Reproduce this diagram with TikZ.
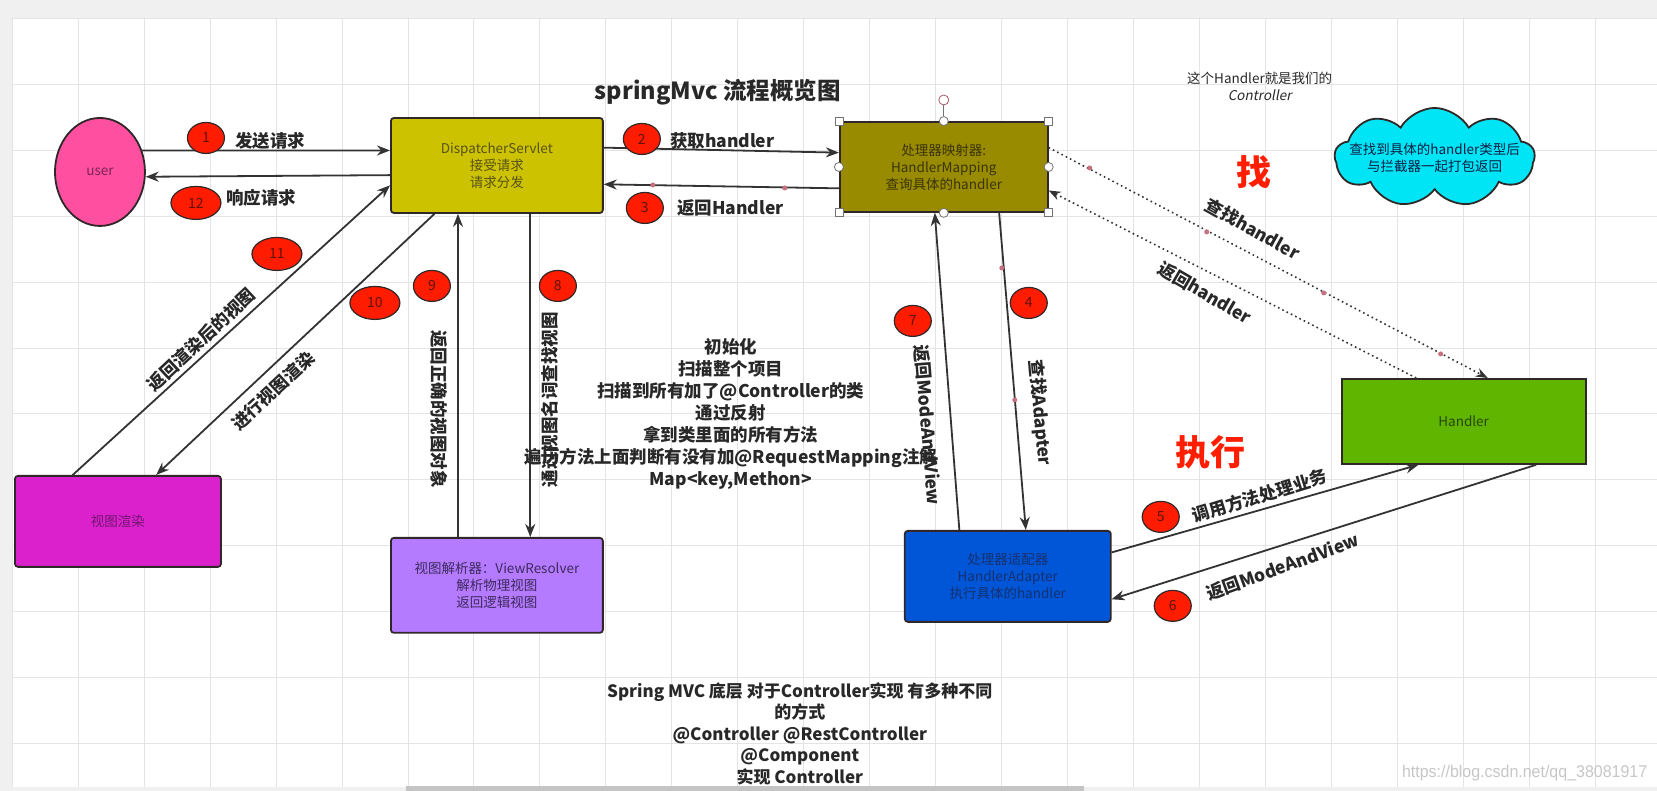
\documentclass[tikz,border=0pt]{standalone}
\usepackage{fontspec}
\setmainfont{Noto Sans CJK SC}
\newfontface\slantfont{Noto Sans CJK SC}[FakeSlant=0.2]
\newfontfamily\markfont{Liberation Sans}
\usetikzlibrary{arrows.meta,calc,shapes.geometric,shapes.symbols}

\definecolor{pagegray}{RGB}{240,240,241}
\definecolor{gridgray}{RGB}{228,228,230}
\definecolor{bargray}{RGB}{196,196,196}
\definecolor{linegray}{RGB}{51,51,51}
\definecolor{edgegray}{RGB}{48,40,40}
\definecolor{labelgray}{RGB}{40,40,40}
\definecolor{userpink}{RGB}{255,79,160}
\definecolor{usertext}{RGB}{125,35,85}
\definecolor{dsyellow}{RGB}{204,194,0}
\definecolor{dstext}{RGB}{88,82,25}
\definecolor{hmolive}{RGB}{153,139,0}
\definecolor{hmtext}{RGB}{58,52,8}
\definecolor{hdgreen}{RGB}{96,181,0}
\definecolor{hdtext}{RGB}{40,70,5}
\definecolor{hablue}{RGB}{0,86,214}
\definecolor{hatext}{RGB}{22,48,112}
\definecolor{vrpurple}{RGB}{180,122,255}
\definecolor{vrtext}{RGB}{62,42,92}
\definecolor{rendermag}{RGB}{219,33,204}
\definecolor{rendertext}{RGB}{112,22,112}
\definecolor{cloudcyan}{RGB}{0,229,245}
\definecolor{badgered}{RGB}{255,28,0}
\definecolor{badgetext}{RGB}{95,18,8}
\definecolor{bigred}{RGB}{255,30,0}
\definecolor{waydot}{RGB}{200,112,128}

\tikzset{
  box/.style={draw=edgegray, line width=1.8pt, rounded corners=3pt, inner sep=0pt,
    align=center, font=\fontsize{13.5}{17}\selectfont},
  arr/.style={-{Stealth[length=13pt,width=10pt]}, line width=1.8pt, draw=linegray},
  dotarr/.style={-{Stealth[length=12pt,width=9pt]}, line width=1.6pt, draw=linegray,
    dash pattern=on 1.6pt off 3.2pt},
  badge/.style={ellipse, draw=edgegray, line width=1.2pt, fill=badgered,
    minimum width=37pt, minimum height=31pt, inner sep=0pt,
    font=\fontsize{14}{14}\selectfont, text=badgetext},
  wide/.style={minimum width=50pt, minimum height=33pt},
  lbl/.style={font=\fontsize{17.5}{22}\selectfont\bfseries, text=labelgray, inner sep=0pt},
  gridline/.style={draw=gridgray, line width=0.8pt},
  hsq/.style={rectangle, draw=black!55, fill=white, line width=0.8pt, minimum size=8pt, inner sep=0pt},
  hcirc/.style={circle, draw=black!55, fill=white, line width=0.8pt, minimum size=9pt, inner sep=0pt},
}

\begin{document}
\begin{tikzpicture}[x=1pt,y=-1pt]
    %% page and grid
    \fill[pagegray] (0,0) rectangle (1657,791);
    \fill[white] (12,18) rectangle (1657,787);
    \foreach \gx in {12,78,...,1596} \draw[gridline] (\gx,18) -- (\gx,787);
    \foreach \gy in {18,84,...,744} \draw[gridline] (12,\gy) -- (1657,\gy);
    \fill[bargray] (406,786) rectangle (1084,791);
    \useasboundingbox (0,0) rectangle (1657,791);

    %% title and notes
    \node[font=\fontsize{23.5}{23.5}\selectfont\bfseries, text=labelgray] (title) at (718,92) {springMvc 流程概览图};
    \node[align=center, font=\fontsize{13.5}{17}\selectfont, text=labelgray] (hint) at (1260,86.5)
        {这个Handler就是我们的\\{\slantfont Controller}};
    \node[font=\fontsize{35}{35}\selectfont\bfseries, text=bigred] (zhao) at (1254,172) {找};
    \node[font=\fontsize{35}{35}\selectfont\bfseries, text=bigred] (zhixing) at (1211,452) {执行};

    %% main components
    \node[ellipse, draw=edgegray, line width=1.8pt, fill=userpink, minimum width=90pt, minimum height=108pt,
        font=\fontsize{13.5}{17}\selectfont, text=usertext] (user) at (100,172) {user};
    \node[box, fill=dsyellow, text=dstext, minimum width=212pt, minimum height=95pt] (ds) at (497,165.5)
        {DispatcherServlet\\接受请求\\请求分发};
    \node[box, fill=hmolive, text=hmtext, minimum width=208pt, minimum height=90pt, rounded corners=0pt] (hm) at (944,167)
        {处理器映射器:\\HandlerMapping\\查询具体的handler};
    \node[box, fill=hdgreen, text=hdtext, minimum width=244pt, minimum height=85pt, rounded corners=0pt] (hd) at (1464,421.5)
        {Handler};
    \node[box, fill=hablue, text=hatext, minimum width=206pt, minimum height=91pt] (ha) at (1008,576.5)
        {处理器适配器\\HandlerAdapter\\执行具体的handler};
    \node[box, fill=vrpurple, text=vrtext, minimum width=212pt, minimum height=95pt] (vr) at (497,585.5)
        {视图解析器：ViewResolver\\解析物理视图\\返回逻辑视图};
    \node[box, fill=rendermag, text=rendertext, minimum width=206pt, minimum height=91pt] (render) at (118,521.5)
        {视图渲染};
    \node[cloud, cloud puffs=9, cloud puff arc=120, cloud ignores aspect, draw=edgegray, line width=1.8pt,
        fill=cloudcyan, minimum width=200pt, minimum height=99pt, inner sep=0pt] (note) at (1435,157.5) {};
    \node[align=center, font=\fontsize{13.5}{17}\selectfont, text=hatext!60!black] (notetext) at (note.center)
        {查找到具体的handler类型后\\与拦截器一起打包返回};

    %% selection handles on HandlerMapping
    \foreach \c/\i in {north west/1, north east/2, south west/3, south east/4}
        \node[hsq] (hs\i) at (hm.\c) {};
    \foreach \c/\i in {north/1, south/2, east/3, west/4}
        \node[hcirc] (hc\i) at (hm.\c) {};
    \node[hcirc, draw=waydot!80!black, minimum size=10pt] (rot) at (944,100) {};
    \draw[black!55, line width=0.8pt] (rot) -- (hc1);

    %% user <-> DispatcherServlet
    \draw[arr] (user.27) -- ($(ds.north west)!0.345!(ds.south west)$);
    \draw[arr] ($(ds.north west)!0.6!(ds.south west)$) -- (user.-6);

    %% DispatcherServlet <-> HandlerMapping
    \draw[arr] ($(ds.north east)!0.316!(ds.south east)$) -- ($(hm.north west)!0.344!(hm.south west)$);
    \draw[arr] ($(hm.north west)!0.733!(hm.south west)$) -- ($(ds.north east)!0.695!(ds.south east)$);

    %% HandlerMapping <-> Handler (dotted)
    \draw[dotarr] ($(hm.north east)!0.289!(hm.south east)$) -- ($(hd.north west)!0.598!(hd.north east)$);
    \draw[dotarr] ($(hd.north west)!0.307!(hd.north east)$) -- ($(hm.north east)!0.756!(hm.south east)$);

    %% HandlerMapping <-> HandlerAdapter
    \draw[arr] ($(hm.south west)!0.764!(hm.south east)$) -- ($(ha.north west)!0.587!(ha.north east)$);
    \draw[arr] ($(ha.north west)!0.267!(ha.north east)$) -- ($(hm.south west)!0.457!(hm.south east)$);

    %% HandlerAdapter <-> Handler
    \draw[arr] ($(ha.north east)!0.242!(ha.south east)$) -- ($(hd.south west)!0.316!(hd.south east)$);
    \draw[arr] ($(hd.south west)!0.795!(hd.south east)$) -- ($(ha.north east)!0.747!(ha.south east)$);

    %% DispatcherServlet <-> ViewResolver
    \draw[arr] ($(ds.south west)!0.656!(ds.south east)$) -- ($(vr.north west)!0.656!(vr.north east)$);
    \draw[arr] ($(vr.north west)!0.318!(vr.north east)$) -- ($(ds.south west)!0.318!(ds.south east)$);

    %% DispatcherServlet <-> view rendering
    \draw[arr] ($(ds.south west)!0.208!(ds.south east)$) -- ($(render.north west)!0.684!(render.north east)$);
    \draw[arr] ($(render.north west)!0.282!(render.north east)$) -- ($(ds.north west)!0.705!(ds.south west)$);

    %% waypoint dots
    \foreach \wx/\wy in {653/185, 785/188, 1090/168, 1207/232, 1324/293, 1441/354, 1002/268, 1015/400}
        \fill[waydot] (\wx,\wy) circle (2.5pt);

    %% step numbers
    \node[badge] (b1) at (206,138) {1};
    \node[badge] (b2) at (642,139) {2};
    \node[badge] (b3) at (645,208) {3};
    \node[badge] (b4) at (1029,303) {4};
    \node[badge] (b5) at (1161,517) {5};
    \node[badge] (b6) at (1173,606) {6};
    \node[badge] (b7) at (913,321) {7};
    \node[badge] (b8) at (558,286) {8};
    \node[badge] (b9) at (432,286) {9};
    \node[badge, wide] (b10) at (375,303) {10};
    \node[badge, wide] (b11) at (277,254) {11};
    \node[badge, wide] (b12) at (196,203) {12};

    %% step labels
    \node[lbl, anchor=west] (l1) at (235,141) {发送请求};
    \node[lbl, anchor=west] (l12) at (226,198) {响应请求};
    \node[lbl, anchor=west] (l2) at (670,141) {获取handler};
    \node[lbl, anchor=west] (l3) at (677,208) {返回Handler};
    \node[lbl, rotate=-29] (lfind) at (1253,229) {查找handler};
    \node[lbl, rotate=-30] (lback) at (1205,293) {返回handler};
    \node[lbl, rotate=-85] (l4) at (1040,413) {查找Adapter};
    \node[lbl, rotate=-85.5] (l7) at (928,425) {返回ModeAndView};
    \node[lbl, rotate=17] (l5) at (1260,496) {调用方法处理业务};
    \node[lbl, rotate=20] (l6) at (1283,567) {返回ModeAndView};
    \node[lbl, rotate=90] (l8) at (550,400) {通过视图名词查找视图};
    \node[lbl, rotate=-90] (l9) at (439,409) {返回正确的视图对象};
    \node[lbl, rotate=43] (l10) at (273,391) {进行视图渲染};
    \node[lbl, rotate=43] (l11) at (201,340) {返回渲染后的视图};

    %% explanations
    \node[lbl, align=center] (init) at (731,414.5)
        {初始化\\扫描整个项目\\扫描到所有加了@Controller的类\\通过反射\\拿到类里面的所有方法\\遍历方法上面判断有没有加@RequestMapping注解\\Map<key,Methon>};
    \node[lbl, align=center, font=\fontsize{17}{21.5}\selectfont\bfseries] (ways) at (800,734)
        {Spring MVC 底层 对于Controller实现 有多种不同\\的方式\\@Controller @RestController\\@Component\\实现 Controller};
    \node[font=\markfont\fontsize{17}{17}\selectfont, text=black!22, xscale=0.94] (mark) at (1525,773)
        {https://blog.csdn.net/qq\_38081917};
\end{tikzpicture}
\end{document}
